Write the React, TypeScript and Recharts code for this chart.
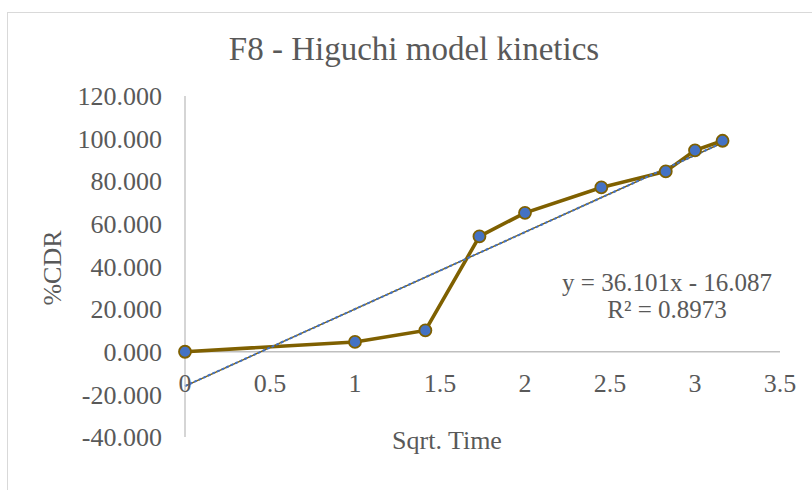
import React from "react";
import { LineChart, Line, XAxis, YAxis } from "recharts";

const sqrtTime = [0, 1, 1.414, 1.732, 2, 2.449, 2.828, 3, 3.162];
const cdr = [0, 4.6, 10.0, 54.1, 65.2, 77.1, 84.6, 94.5, 99.0];
const trendX = [0, 3.162];
const trendY = [-16.087, 98.063];
const xTicks = [0, 0.5, 1, 1.5, 2, 2.5, 3, 3.5];
const yTicks = [-40, -20, 0, 20, 40, 60, 80, 100, 120];
const title = "F8 - Higuchi model kinetics";
const xTitle = "Sqrt. Time";
const yTitle = "%CDR";
const eqLine1 = "y = 36.101x - 16.087";
const eqLine2 = "R² = 0.8973";

const seriesData = sqrtTime.map((x, i) => ({ x, y: cdr[i] }));
const trendData = trendX.map((x, i) => ({ x, t: trendY[i] }));

const FONT = '"Liberation Serif", "Times New Roman", serif';
const TXT = "#595959";
const AXIS = "#bfbfbf";
const BROWN = "#7f6000";
const BLUE = "#4472c4";

const XTick = (props: any) => {
  const { x, y, payload } = props;
  return (
    <text x={x} y={y} dy={-45} textAnchor="middle" fill={TXT} fontSize={26} fontFamily={FONT}>
      {String(payload.value)}
    </text>
  );
};

export default function App() {
  return (
    <div style={{ position: "absolute", left: 0, top: 0, width: 812, height: 490, overflow: "hidden", background: "#fff" }}>
      <div style={{ position: "absolute", left: 7, top: 12, width: 830, height: 520, border: "1px solid #d9d9d9" }} />
      <div style={{ position: "absolute", left: 0, top: 0 }}>
        <LineChart width={812} height={490} margin={{ top: 96, right: 32, left: 0, bottom: 23 }}>
          <XAxis
            type="number"
            dataKey="x"
            domain={[0, 3.5]}
            ticks={xTicks}
            axisLine={false}
            tickLine={false}
            tickSize={0}
            tickMargin={0}
            height={30}
            tick={<XTick />}
            interval={0}
          />
          <YAxis
            type="number"
            domain={[-40, 120]}
            ticks={yTicks}
            width={185}
            axisLine={{ stroke: AXIS, strokeWidth: 1.3 }}
            tickLine={false}
            tickSize={0}
            tickMargin={23}
            interval={0}
            tickFormatter={(v: number) => v.toFixed(3)}
            tick={{ fill: TXT, fontSize: 26, fontFamily: FONT }}
          />
          <Line
            data={[{ x: 0, z: 0 }, { x: 3.5, z: 0 }]}
            dataKey="z"
            stroke={AXIS}
            strokeWidth={1.3}
            dot={false}
            isAnimationActive={false}
          />
          <Line
            data={seriesData}
            dataKey="y"
            stroke={BROWN}
            strokeWidth={3.6}
            dot={{ r: 6, fill: BLUE, stroke: BROWN, strokeWidth: 1.8 }}
            isAnimationActive={false}
          />
          <Line
            data={trendData}
            dataKey="t"
            stroke={BROWN}
            strokeWidth={1.4}
            dot={false}
            isAnimationActive={false}
          />
          <Line
            data={trendData}
            dataKey="t"
            stroke={BLUE}
            strokeWidth={2}
            strokeDasharray="3 2"
            dot={false}
            isAnimationActive={false}
          />
        </LineChart>
      </div>
      <svg width={812} height={490} style={{ position: "absolute", left: 0, top: 0, pointerEvents: "none" }}>
        <text x={414} y={60} textAnchor="middle" fill={TXT} fontSize={33} fontFamily={FONT}>{title}</text>
        <text x={447} y={449} textAnchor="middle" fill={TXT} fontSize={26} fontFamily={FONT}>{xTitle}</text>
        <text x={61} y={268} textAnchor="middle" fill={TXT} fontSize={26} fontFamily={FONT} transform="rotate(-90 61 268)">{yTitle}</text>
        <text x={667} y={291} textAnchor="middle" fill={TXT} fontSize={25} fontFamily={FONT}>{eqLine1}</text>
        <text x={667} y={318} textAnchor="middle" fill={TXT} fontSize={25} fontFamily={FONT}>{eqLine2}</text>
      </svg>
    </div>
  );
}
